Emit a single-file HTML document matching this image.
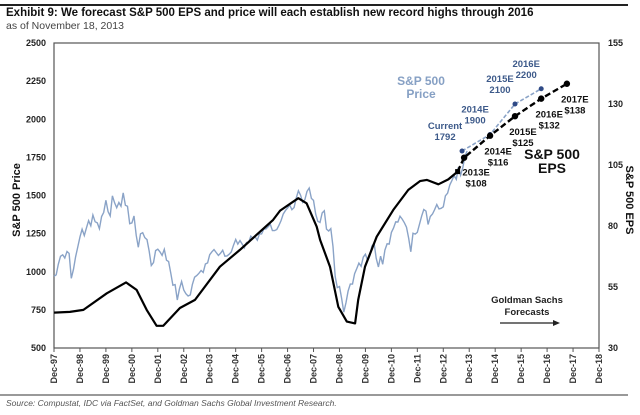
<!DOCTYPE html>
<html><head><meta charset="utf-8"><style>
body{margin:0;background:#fff;font-family:"Liberation Sans",Arial,sans-serif}
svg text{font-family:"Liberation Sans",Arial,sans-serif}
</style></head><body>
<svg id="chart" width="640" height="410" viewBox="0 0 640 410">
<line x1="0" y1="5" x2="628" y2="5" stroke="#222" stroke-width="2"/>
<text x="6" y="16" font-size="11.5" font-weight="bold" fill="#111">Exhibit 9: We forecast S&amp;P 500 EPS and price will each establish new record highs through 2016</text>
<text x="6" y="29" font-size="10.5" fill="#444">as of November 18, 2013</text>
<g id="axes"></g>
<g id="series"></g>
<text x="421" y="85" font-size="12" font-weight="bold" fill="#86a0c4" text-anchor="middle">S&amp;P 500</text>
<text x="421" y="98" font-size="12" font-weight="bold" fill="#86a0c4" text-anchor="middle">Price</text>
<text x="552" y="159" font-size="14" font-weight="bold" fill="#111" text-anchor="middle">S&amp;P 500</text>
<text x="552" y="173" font-size="14" font-weight="bold" fill="#111" text-anchor="middle">EPS</text>
<text x="527" y="303" font-size="9.5" font-weight="bold" fill="#222" text-anchor="middle">Goldman Sachs</text>
<text x="527" y="315" font-size="9.5" font-weight="bold" fill="#222" text-anchor="middle">Forecasts</text>
<line x1="500" y1="323" x2="555" y2="323" stroke="#222" stroke-width="1.2"/>
<polygon points="560,323 553,320 553,326" fill="#222"/>
<text transform="translate(20,200) rotate(-90)" font-size="11" font-weight="bold" fill="#111" text-anchor="middle">S&amp;P 500 Price</text>
<text transform="translate(626,200) rotate(90)" font-size="11" font-weight="bold" fill="#111" text-anchor="middle">S&amp;P 500 EPS</text>
<line x1="0" y1="395" x2="628" y2="395" stroke="#333" stroke-width="1"/>
<text x="6" y="406" font-size="8.5" font-style="italic" fill="#555">Source: Compustat, IDC via FactSet, and Goldman Sachs Global Investment Research.</text>
</svg>
<script>
const priceStart = 1997.917;
const priceValues = [970,980,1049,1101,1111,1090,1133,1120,957,1017,1098,1163,1229,
1279,1238,1286,1335,1301,1372,1328,1320,1282,1362,1389,1469,
1394,1366,1498,1452,1420,1454,1430,1517,1436,1429,1315,1320,
1366,1240,1160,1249,1256,1224,1211,1134,1041,1060,1139,1148,
1130,1107,1147,1076,1067,990,912,916,815,886,936,880,
856,841,848,917,964,975,990,1008,996,1051,1058,1112,
1131,1145,1126,1107,1121,1141,1102,1104,1115,1130,1174,1212,
1181,1204,1181,1157,1192,1191,1234,1220,1229,1207,1249,1248,
1280,1281,1295,1311,1270,1270,1277,1304,1336,1378,1401,1418,
1438,1407,1421,1482,1531,1503,1455,1474,1527,1549,1481,1468,
1378,1331,1323,1386,1400,1280,1267,1283,1165,969,896,903,
826,735,798,873,919,919,987,1021,1057,1036,1096,1115,
1074,1104,1169,1187,1089,1031,1102,1049,1141,1183,1181,1258,
1286,1327,1326,1364,1345,1321,1292,1219,1131,1253,1247,1258,
1312,1366,1408,1398,1310,1362,1379,1407,1441,1412,1416,1426,
1498,1515,1569,1598,1631,1606,1686,1633,1682,1757,1792];
const epsDates = [1997.92,1998.53,1999.05,1999.95,2000.69,2001.10,2001.49,2001.87,2002.13,2002.77,2003.35,2004.31,2005.08,2006.36,2006.63,2007.33,2007.65,2008.04,2008.17,2008.55,2008.87,2009.20,2009.52,2009.64,2009.90,2010.35,2010.99,2011.57,2012.02,2012.28,2012.73,2013.11,2013.47];
const epsValues = [44.5,44.8,45.6,52.4,56.9,53.8,45.6,39.1,39.1,46.4,49.7,63.3,70.2,82.5,86.3,91.4,89.3,79.7,74.3,63.3,46.9,40.8,40.1,49.7,63.3,75.6,86.6,94.8,98.4,98.9,97.1,99.1,102.3];
const priceFcDates = [2013.64,2014.72,2015.68,2016.69];
const priceFcValues = [1792,1900,2100,2200];
const priceFcLabels = [["Current","1792"],["2014E","1900"],["2015E","2100"],["2016E","2200"]];
const epsFcDates = [2013.72,2014.72,2015.68,2016.69,2017.68];
const epsFcValues = [108,117,125,132.2,138.3];
const epsFcLabels = [["2013E","$108"],["2014E","$116"],["2015E","$125"],["2016E","$132"],["2017E","$138"]];
const leftTicks = [500,750,1000,1250,1500,1750,2000,2250,2500];
const rightTicks = [30,55,80,105,130,155];
const xTickYears = [97,98,99,0,1,2,3,4,5,6,7,8,9,10,11,12,13,14,15,16,17,18];

const L=54,R=599,T=43,B=348;
const xS = t => L + (t-1997.917)*(R-L)/21;
const yP = v => B - (v-500)*(B-T)/2000;
const yE = v => B - (v-30)*(B-T)/125;
const NS="http://www.w3.org/2000/svg";
const ax=document.getElementById('axes'), se=document.getElementById('series');
function mk(tag,attrs,parent){const e=document.createElementNS(NS,tag);for(const k in attrs)e.setAttribute(k,attrs[k]);parent.appendChild(e);return e;}

const frame=mk('rect',{x:L,y:T,width:R-L,height:B-T,fill:'none',stroke:'#555','stroke-width':1.2},ax);


leftTicks.forEach(v=>{
  const t=mk('text',{x:L-8,y:yP(v)+3,'font-size':9,'font-weight':'bold','text-anchor':'end',fill:'#222'},ax);
  t.textContent=v;
  
  
});
rightTicks.forEach(v=>{
  const t=mk('text',{x:R+9,y:yE(v)+3,'font-size':9,'font-weight':'bold',fill:'#222'},ax);
  t.textContent=v;
  
  
});
xTickYears.forEach((yy,i)=>{
  const x=xS(1997.917+i);
  const tk=mk('line',{x1:x,y1:B,x2:x,y2:B+4,stroke:'#555'},ax);
  
  
  const t=mk('text',{transform:`translate(${x+3},${B+6}) rotate(-90)`,'font-size':9,'font-weight':'bold','text-anchor':'end',fill:'#333'},ax);
  t.textContent='Dec-'+String(yy).padStart(2,'0');
  
  
});

const pp=priceValues.map((v,i)=>`${xS(priceStart+i/12).toFixed(1)},${yP(v).toFixed(1)}`).join(' ');
const pl=mk('polyline',{points:pp,fill:'none',stroke:'#8aa3c7','stroke-width':1.4},se);


const ep=epsValues.map((v,i)=>`${xS(epsDates[i]).toFixed(1)},${yE(v).toFixed(1)}`).join(' ');
const el=mk('polyline',{points:ep,fill:'none',stroke:'#000','stroke-width':2.2,'stroke-linejoin':'round'},se);


const fp=priceFcValues.map((v,i)=>`${xS(priceFcDates[i])},${yP(v)}`).join(' ');
const fpl=mk('polyline',{points:fp,fill:'none',stroke:'#8aa3c7','stroke-width':1.6,'stroke-dasharray':'4,2'},se);


const fe=epsFcValues.map((v,i)=>`${xS(epsFcDates[i])},${yE(v)}`).join(' ');
const fel=mk('polyline',{points:`${xS(epsDates[epsDates.length-1])},${yE(epsValues[epsValues.length-1])} `+fe,fill:'none',stroke:'#000','stroke-width':2.4,'stroke-dasharray':'6,3'},se);


const endDot=mk('rect',{x:xS(epsDates[epsDates.length-1])-2.5,y:yE(epsValues[epsValues.length-1])-2.5,width:5,height:5,fill:'#000'},se);


priceFcValues.forEach((v,i)=>{
  const x=xS(priceFcDates[i]),y=yP(v);
  const c=mk('circle',{cx:x,cy:y,r:2.5,fill:'#2f4a86'},se);
  
  
  [0,1].forEach(j=>{
    const t=mk('text',{x:x-15+(i==0?-2:0),y:y-22+j*11,'font-size':9.5,'font-weight':'bold','text-anchor':'middle',fill:'#3d5a8a'},se);
    t.textContent=priceFcLabels[i][j];
    
    
  });
});
epsFcValues.forEach((v,i)=>{
  const x=xS(epsFcDates[i]),y=yE(v);
  const c=mk('circle',{cx:x,cy:y,r:3.2,fill:'#000'},se);
  
  
  [0,1].forEach(j=>{
    const t=mk('text',{x:x+(i==0?12:8),y:y+(i==0?18:19)+j*11,'font-size':9.5,'font-weight':'bold','text-anchor':'middle',fill:'#111'},se);
    t.textContent=epsFcLabels[i][j];
    
    
  });
});
</script>
</body></html>
